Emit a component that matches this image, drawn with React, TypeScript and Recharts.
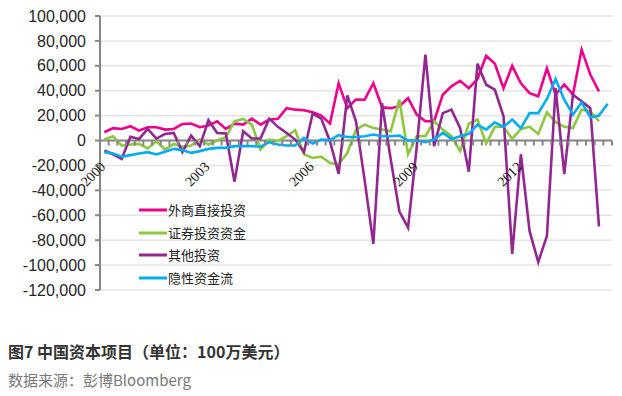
import React from 'react';
import { LineChart, Line, XAxis, YAxis, CartesianGrid, ReferenceLine } from 'recharts';

// quarterly, 2000Q1 .. 2014Q3 (unit: 100万美元)
const YEARS = ['2000', '2001', '2002', '2003', '2004', '2005', '2006', '2007', '2008', '2009', '2010', '2011', '2012', '2013', '2014'];
const QUARTERS = YEARS.flatMap((y) => ['Q1', 'Q2', 'Q3', 'Q4'].map((q) => `${y}${q}`)).slice(0, 59);
const YEAR_LABELS = ['2000', '2003', '2006', '2009', '2012'];

const fdi = [
  6700, 10000, 9300, 11500, 8000, 10700, 10700, 8800, 9300, 13300, 13600, 10700, 12000, 15500, 9300,
  13600, 12800, 17600, 12800, 16800, 17400, 26000, 24800, 24300, 22700, 20000, 13600, 46000, 26000, 33000,
  32800, 46000, 26700, 26000, 27500, 34000, 20800, 15500, 15500, 36800, 43500, 48000, 42000, 49400, 68000,
  61700, 42000, 60000, 46000, 38000, 35500, 58000, 36800, 45000, 36800, 73000, 53000, 39500, null,
];
const portfolio = [
  800, 3500, -4000, -3200, -2700, -6400, -500, -7200, -2700, -5000, -4000, 800, -3200, 0, 2700,
  15500, 17400, 12800, -7200, 800, -500, 3500, 8300, -11000, -14000, -13000, -18000, -19000, -10000, 8800,
  12800, 10000, 8800, 7500, 32800, -11000, 3500, 3500, 15500, 8800, 3500, -8500, 13600, 16800, -2400,
  11000, 11000, 1300, 9300, 11000, 5300, 22700, 14700, 11000, 10000, 24800, 23500, 15500, null,
];
const other = [
  -8000, -11000, -14700, 3000, 1300, 9300, 1600, 5300, 6100, -9300, 4000, -4500, 16300, 6100, 5600,
  -33000, 7500, 1600, 1600, 17600, 11000, 6100, 800, -9300, 21600, 17600, -500, -26700, 36300, 15500,
  -32000, -83000, 30000, -15000, -57000, -70000, -5000, 69000, -4500, 22000, 24800, 10000, -25000, 61700, 44800,
  40800, 19500, -91000, -11000, -72600, -97500, -76600, 42000, -27000, 36800, 31500, 26000, -69000, null,
];
const hidden = [
  -9300, -10400, -13000, -11700, -10400, -9300, -11200, -9000, -6700, -7700, -9900, -8500, -6700, -5900, -5900,
  -4500, -4500, -4500, -5000, -1300, -3200, -4000, -4000, 2100, -2400, 800, 300, 4300, 2900, 2900,
  3500, 4800, 3500, 3500, 4000, 0, 0, -1300, 800, 6100, 1300, 3500, 5300, 12800, 8800,
  14700, 11000, 16800, 10000, 22000, 22000, 33400, 49400, 32800, 20800, 30700, 18700, 20000, 29600,
];

const SERIES = [
  { key: 'fdi', name: '外商直接投资', color: '#EC008C', values: fdi },
  { key: 'portfolio', name: '证券投资资金', color: '#8DC63F', values: portfolio },
  { key: 'other', name: '其他投资', color: '#92278F', values: other },
  { key: 'hidden', name: '隐性资金流', color: '#00AEEF', values: hidden },
];

const Y_MIN = -120000;
const Y_MAX = 100000;
const Y_TICKS = [100000, 80000, 60000, 40000, 20000, 0, -20000, -40000, -60000, -80000, -100000, -120000];

const data = QUARTERS.map((q, i) => {
  const row: Record<string, any> = { q };
  SERIES.forEach((s) => (row[s.key] = s.values[i]));
  return row;
});

const W = 622;
const H = 300;
const MARGIN = { top: 16, right: 10, left: 0, bottom: 0 };
const Y_AXIS_W = 100;
const X_AXIS_H = 10;
const PLOT_W = W - MARGIN.right - Y_AXIS_W;
const PLOT_H = H - MARGIN.top - X_AXIS_H;
const BAND = PLOT_W / QUARTERS.length;
const ZERO_Y = MARGIN.top + (PLOT_H * Y_MAX) / (Y_MAX - Y_MIN);
const AXIS_GRAY = '#868686';

const XTick = (props: any) => {
  const { x, index, payload } = props;
  const year = String(payload.value).slice(0, 4);
  const showLabel = payload.value.endsWith('Q1') && YEAR_LABELS.includes(year);
  const lx = x + 2;
  const ly = ZERO_Y + 27;
  return (
    <g>
      <line x1={x - BAND / 2} x2={x - BAND / 2} y1={ZERO_Y} y2={ZERO_Y + 5} stroke={AXIS_GRAY} strokeWidth={2} />
      {index === QUARTERS.length - 1 && (
        <line x1={x + BAND / 2} x2={x + BAND / 2} y1={ZERO_Y} y2={ZERO_Y + 5} stroke={AXIS_GRAY} strokeWidth={2} />
      )}
      {showLabel && (
        <text
          x={lx}
          y={ly}
          transform={`rotate(-45, ${lx}, ${ly})`}
          textAnchor="end"
          fontFamily="'Liberation Serif', 'Times New Roman', serif"
          fontSize={14}
          fill="#111"
        >
          {year}
        </text>
      )}
    </g>
  );
};

const LegendBox = () => (
  <div
    style={{
      position: 'absolute',
      left: 139,
      top: 199,
      fontFamily: "'Noto Sans CJK SC', sans-serif",
      fontSize: 13,
      color: '#222',
    }}
  >
    {SERIES.map((s) => (
      <div key={s.key} style={{ display: 'flex', alignItems: 'center', height: 22.5 }}>
        <svg width={28} height={6} style={{ display: 'block' }}>
          <line x1={0} x2={28} y1={3} y2={3} stroke={s.color} strokeWidth={3} />
        </svg>
        <span style={{ marginLeft: 1, lineHeight: '22px' }}>{s.name}</span>
      </div>
    ))}
  </div>
);

export default function App() {
  return (
    <div style={{ position: 'fixed', left: 0, top: 0, width: W, height: 396, background: '#fff' }}>
      <LineChart width={W} height={H} data={data} margin={MARGIN}>
        <CartesianGrid vertical={false} stroke="#e4e4e4" strokeWidth={1.5} />
        <XAxis
          dataKey="q"
          height={X_AXIS_H}
          interval={0}
          axisLine={false}
          tickLine={false}
          tick={<XTick />}
          padding={{ left: BAND / 2, right: BAND / 2 }}
        />
        <YAxis
          width={Y_AXIS_W}
          domain={[Y_MIN, Y_MAX]}
          ticks={Y_TICKS}
          interval={0}
          tickFormatter={(v: number) => v.toLocaleString('en-US')}
          tick={{ fontSize: 16, fill: '#262626', fontFamily: "'Liberation Sans', Arial, sans-serif" }}
          tickSize={5}
          tickMargin={9}
          tickLine={{ stroke: AXIS_GRAY, strokeWidth: 2 }}
          axisLine={{ stroke: AXIS_GRAY, strokeWidth: 2 }}
        />
        <ReferenceLine y={0} stroke={AXIS_GRAY} strokeWidth={2} />
        {SERIES.map((s) => (
          <Line
            key={s.key}
            dataKey={s.key}
            name={s.name}
            stroke={s.color}
            strokeWidth={2.6}
            dot={false}
            activeDot={false}
            connectNulls={false}
            isAnimationActive={false}
          />
        ))}
      </LineChart>
      <LegendBox />
      <div
        style={{
          position: 'absolute',
          left: 8,
          top: 341,
          fontFamily: "'Noto Sans CJK SC', sans-serif",
          fontSize: 16,
          fontWeight: 'bold',
          color: '#333',
          lineHeight: '20px',
          whiteSpace: 'nowrap',
        }}
      >
        图7 中国资本项目（单位：100万美元）
      </div>
      <div
        style={{
          position: 'absolute',
          left: 8,
          top: 370,
          fontFamily: "'Noto Sans CJK SC', sans-serif",
          fontSize: 15,
          color: '#777',
          lineHeight: '20px',
          whiteSpace: 'nowrap',
        }}
      >
        数据来源：彭博Bloomberg
      </div>
    </div>
  );
}
